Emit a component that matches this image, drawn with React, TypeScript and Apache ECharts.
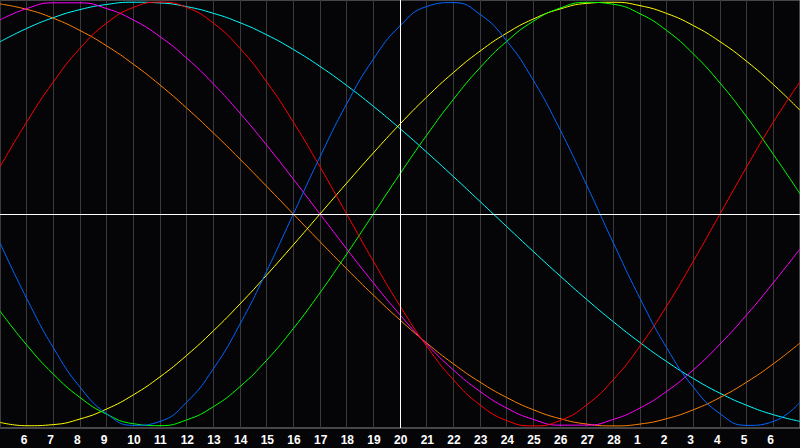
import React, { useEffect, useRef } from "react";
import * as echarts from "echarts";

// Day labels for positions 0..30 (today = "20" at centre)
const dayLabels = ["5","6","7","8","9","10","11","12","13","14","15","16","17","18","19","20","21","22","23","24","25","26","27","28","1","2","3","4","5","6","7"];

const physical = [-0.1362,-0.3984,-0.6311,-0.817,-0.9423,-0.9977,-0.9791,-0.8879,-0.7308,-0.5196,-0.2698,0,0.2698,0.5196,0.7308,0.8879,0.9791,0.9977,0.9423,0.817,0.6311,0.3984,0.1362,-0.1362,-0.3984,-0.6311,-0.817,-0.9423,-0.9977,-0.9791,-0.8879];
const emotional = [0.2225,0.4339,0.6235,0.7818,0.901,0.9749,1,0.9749,0.901,0.7818,0.6235,0.4339,0.2225,0,-0.2225,-0.4339,-0.6235,-0.7818,-0.901,-0.9749,-1,-0.9749,-0.901,-0.7818,-0.6235,-0.4339,-0.2225,0,0.2225,0.4339,0.6235];
const intellectual = [-0.4582,-0.6182,-0.7557,-0.866,-0.945,-0.9898,-0.9989,-0.9718,-0.9096,-0.8146,-0.6901,-0.5406,-0.3717,-0.1893,0,0.1893,0.3717,0.5406,0.6901,0.8146,0.9096,0.9718,0.9989,0.9898,0.945,0.866,0.7557,0.6182,0.4582,0.2817,0.0951];
const intuitive = [0.9158,0.9694,0.9966,0.9966,0.9694,0.9158,0.8372,0.7357,0.6142,0.4759,0.3247,0.1646,0,-0.1646,-0.3247,-0.4759,-0.6142,-0.7357,-0.8372,-0.9158,-0.9694,-0.9966,-0.9966,-0.9694,-0.9158,-0.8372,-0.7357,-0.6142,-0.4759,-0.3247,-0.1646];
const aesthetic = [-0.9834,-0.9993,-0.994,-0.9675,-0.9204,-0.8536,-0.7686,-0.6673,-0.5517,-0.4245,-0.2881,-0.1456,0,0.1456,0.2881,0.4245,0.5517,0.6673,0.7686,0.8536,0.9204,0.9675,0.994,0.9993,0.9834,0.9465,0.8894,0.8136,0.7204,0.6112,0.4894];
const awareness = [0.9914,0.9659,0.9239,0.866,0.7934,0.7071,0.6088,0.5,0.3827,0.2588,0.1305,0,-0.1305,-0.2588,-0.3827,-0.5,-0.6088,-0.7071,-0.7934,-0.866,-0.9239,-0.9659,-0.9914,-1,-0.9914,-0.9659,-0.9239,-0.866,-0.7934,-0.7071,-0.6088];
const spiritual = [0.8126,0.8757,0.9267,0.9647,0.989,0.9996,0.9961,0.9786,0.9473,0.9028,0.8457,0.7765,0.6965,0.6067,0.5085,0.4031,0.292,0.1769,0.0593,-0.0593,-0.1769,-0.292,-0.4031,-0.5085,-0.6067,-0.6965,-0.7765,-0.8457,-0.9028,-0.9473,-0.9786];

const seriesDefs = [
  { name: "Spiritual", data: spiritual, color: "#00ffff" },
  { name: "Awareness", data: awareness, color: "#ff8000" },
  { name: "Aesthetic", data: aesthetic, color: "#ffff00" },
  { name: "Intuitive", data: intuitive, color: "#ff00ff" },
  { name: "Intellectual", data: intellectual, color: "#00ff00" },
  { name: "Emotional", data: emotional, color: "#ff0000" },
  { name: "Physical", data: physical, color: "#0066ff" },
];
const todayIndex = 15;

export default function App() {
  const ref = useRef<HTMLDivElement>(null);
  useEffect(() => {
    document.body.style.margin = "0";
    document.body.style.background = "#000";
    if (!ref.current) return;
    const chart = echarts.init(ref.current, undefined, { renderer: "svg" });
    const lastIdx = dayLabels.length - 1;
    chart.setOption({
      animation: false,
      backgroundColor: "#050508",
      grid: { left: 0, right: 0, top: 0, bottom: 20, show: true, borderColor: "#8a8a8a", borderWidth: 1, backgroundColor: "#050508" },
      xAxis: {
        type: "category",
        data: dayLabels,
        boundaryGap: false,
        axisLine: { show: true, lineStyle: { color: "#a0a0a0", width: 1 } },
        axisTick: { show: false },
        splitLine: { show: true, interval: 0, lineStyle: { color: "#3a3a3c", width: 1 } },
        axisLabel: {
          interval: (idx: number) => idx > 0 && idx < lastIdx,
          margin: 6,
          formatter: (v: string) => `{a|${v}}`,
          rich: {
            a: { width: 12, align: "left", color: "#ffffff", fontSize: 12, fontWeight: "bold", fontFamily: "Liberation Sans" },
          },
        },
      },
      yAxis: {
        type: "value",
        min: -1.01,
        max: 1.01,
        show: false,
        splitLine: { show: false },
      },
      series: seriesDefs.map((s, i) => ({
        type: "line",
        name: s.name,
        data: s.data,
        smooth: 0.5,
        showSymbol: false,
        symbol: "none",
        lineStyle: { color: s.color, width: 1 },
        z: 3,
        markLine: i === 0 ? {
          silent: true,
          symbol: ["none", "none"],
          label: { show: false },
          lineStyle: { color: "#ffffff", width: 1, type: "solid" },
          data: [{ xAxis: todayIndex }, { yAxis: 0 }],
        } : undefined,
      })),
    });
    return () => chart.dispose();
  }, []);
  return <div ref={ref} style={{ width: 800, height: 448 }} />;
}
